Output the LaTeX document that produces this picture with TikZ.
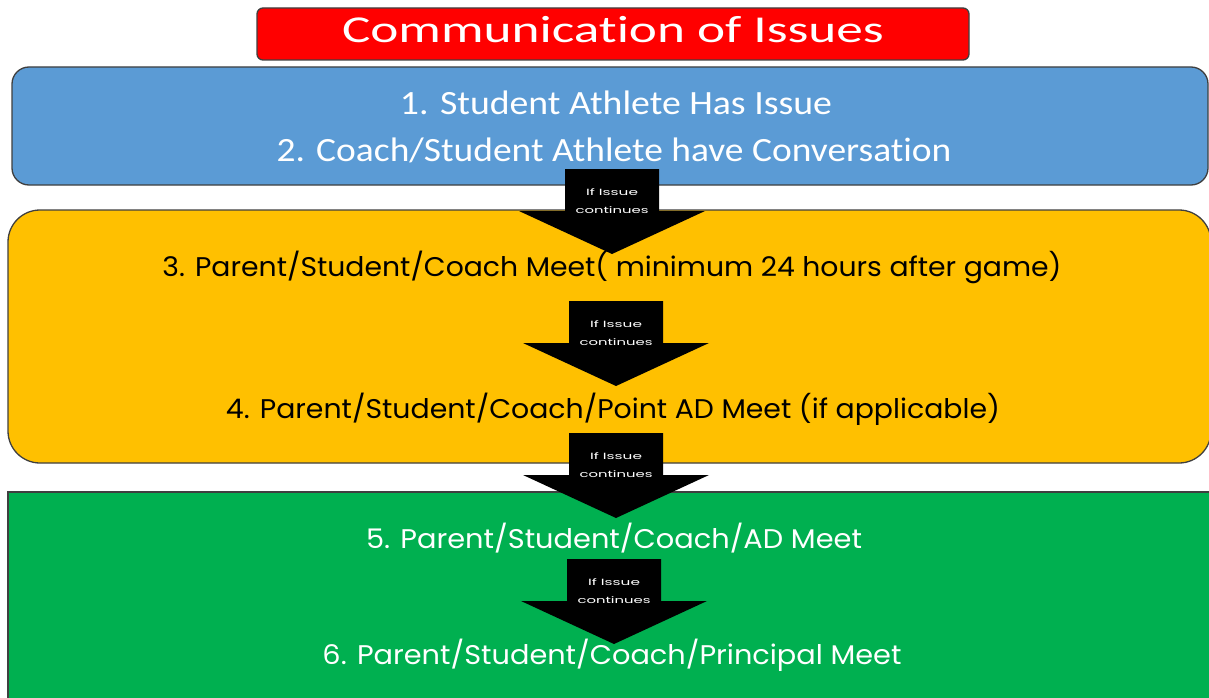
\documentclass[tikz,border=0pt]{standalone}
\usepackage{fontspec}
\usepackage{graphicx}
\setmainfont[Ligatures=NoCommon]{Carlito}
\newfontfamily\geofont{Poppins}
\usetikzlibrary{positioning}

\definecolor{titlered}{HTML}{FF0000}
\definecolor{stepblue}{HTML}{5B9BD5}
\definecolor{steporange}{HTML}{FFC000}
\definecolor{stepgreen}{HTML}{00B050}
\definecolor{edgegray}{HTML}{3F3F3F}

% stretch a text to a given width, keeping its height
\newcommand{\wide}[2]{\resizebox{#1}{\height}{#2}}

\tikzset{
  panel/.style={draw=edgegray, line width=1.3pt},
  calibri/.style={font=\fontsize{34}{40}\selectfont, text=white, anchor=base},
  gothic/.style={font=\geofont\fontsize{27}{32}\selectfont, anchor=base},
  flowarrow/.style={fill=black},
  arrowtext/.style={font=\geofont\fontsize{9}{18}\selectfont, text=white, align=center, inner sep=0pt}
}

\begin{document}
\begin{tikzpicture}[x=1pt, y=-1pt]
        \useasboundingbox (0,0) rectangle (1209,698);
        % Title
        \draw [panel, fill=titlered, rounded corners=6pt] (257,8) rectangle (969,60);
        \node [anchor=base, text=white, font=\fontsize{38}{44}\selectfont] (title) at (613,43) {\wide{542pt}{Communication of Issues}};
        % Panels
        \draw [panel, fill=stepblue, rounded corners=17pt] (12,67) rectangle (1208,185);
        \draw [panel, fill=steporange, rounded corners=32pt] (8,210) rectangle (1211,463);
        \draw [panel, fill=stepgreen] (8,492) rectangle (1216,706);
        % Steps
        \node [calibri] (one) at (616,115) {\wide{432pt}{1. Student Athlete Has Issue}};
        \node [calibri] (two) at (614,161) {\wide{675pt}{2. Coach/Student Athlete have Conversation}};
        \node [gothic] (three) at (612,276) {\wide{899pt}{3. Parent/Student/Coach Meet( minimum 24 hours after game)}};
        \node [gothic] (four) at (613,418) {\wide{774pt}{4. Parent/Student/Coach/Point AD Meet (if applicable)}};
        \node [gothic, text=white] (five) at (614,548) {\wide{496pt}{5. Parent/Student/Coach/AD Meet}};
        \node [gothic, text=white] (six) at (612,664) {\wide{579pt}{6. Parent/Student/Coach/Principal Meet}};
        % Arrows
        \foreach \ax/\ay [count=\i] in {612/169, 616/301, 616/433, 614/559} {
            \fill [flowarrow] (\ax-47,\ay) -- (\ax+47,\ay) -- (\ax+47,\ay+42) -- (\ax+93,\ay+42)
                -- (\ax,\ay+85) -- (\ax-93,\ay+42) -- (\ax-47,\ay+42) -- cycle;
            \node [arrowtext] (note\i) at (\ax,\ay+32) {\wide{52pt}{If Issue}\\\wide{73pt}{continues}};
        }
    \end{tikzpicture}
\end{document}
